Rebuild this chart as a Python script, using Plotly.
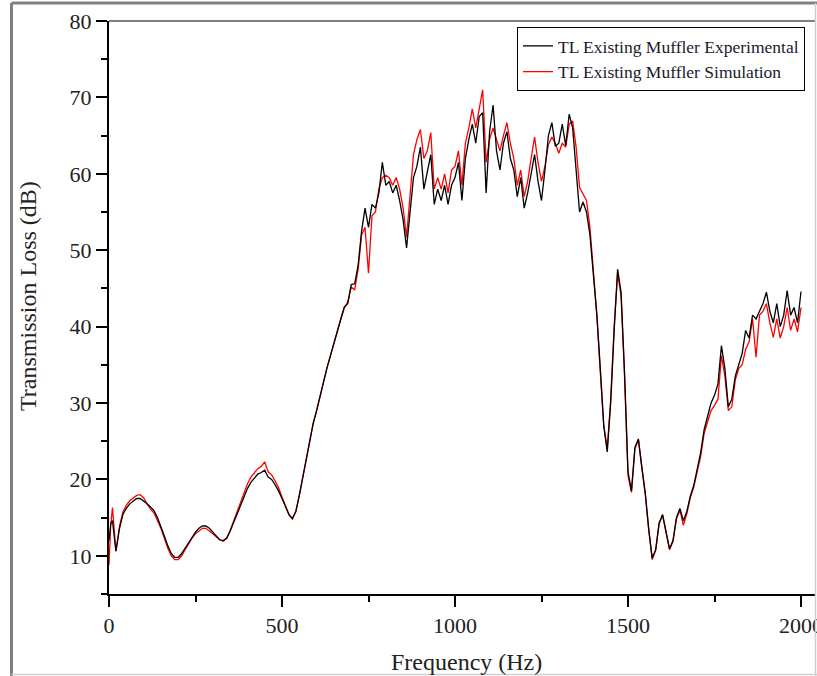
import plotly.graph_objects as go

# Frequency grid (Hz)
freq = [0, 5, 10, 15, 20, 25, 30] + list(range(40, 2001, 10))

# Transmission loss, experimental (dB)
tl_experimental = [
    12.0, 14.2, 14.6, 12.5, 10.6, 12.0, 13.5,
    15.4, 16.2, 16.8, 17.2, 17.5, 17.5, 17.2, 16.8, 16.4, 15.9,   # 40-130
    15.0, 13.9, 12.6, 11.3, 10.3, 9.8, 9.8, 10.3, 11.0, 11.8,     # 140-230
    12.5, 13.1, 13.6, 13.9, 13.9, 13.6, 13.1, 12.6, 12.1, 12.0,   # 240-330
    12.3, 13.2, 14.3, 15.5, 16.7, 17.8, 18.8, 19.6, 20.2, 20.7,   # 340-430
    20.9, 21.2, 20.3, 20.0, 19.3, 18.5, 17.5, 16.4, 15.4, 14.9,   # 440-530
    15.8, 17.9, 20.2, 22.6, 25.0, 27.3, 29.0, 31.0, 32.8, 34.6,   # 540-630
    36.2, 37.9, 39.3, 41.0, 42.6, 43.0, 45.5, 45.6, 48.0, 52.5,   # 640-730
    55.5, 53.0, 56.0, 55.5, 57.5, 61.5, 58.5, 59.0, 57.5, 58.5,   # 740-830
    56.5, 54.0, 50.3, 55.0, 59.5, 61.0, 63.5, 58.0, 60.5, 62.5,   # 840-930
    56.0, 58.0, 56.5, 58.5, 56.0, 58.5, 59.5, 61.5, 56.5, 62.0,   # 940-1030
    64.5, 66.5, 64.0, 67.5, 68.0, 57.5, 65.5, 69.0, 63.0, 60.5,   # 1040-1130
    64.0, 65.5, 62.0, 60.5, 57.0, 59.5, 55.5, 57.5, 60.0, 62.5,   # 1140-1230
    59.0, 56.5, 60.5, 65.0, 66.7, 63.6, 64.0, 66.5, 63.7, 67.8,   # 1240-1330
    66.0, 61.0, 55.0, 56.3, 55.0, 52.0, 47.0, 41.5, 34.5, 27.0,   # 1340-1430
    23.6, 30.0, 39.5, 47.5, 44.5, 34.0, 21.0, 18.5, 24.2, 25.3,   # 1440-1530
    21.6, 18.2, 13.5, 9.7, 10.8, 14.3, 15.4, 13.0, 10.9, 12.0,    # 1540-1630
    15.0, 16.2, 14.6, 15.8, 17.8, 19.2, 21.4, 23.5, 26.5, 28.3,   # 1640-1730
    30.0, 31.0, 32.5, 37.5, 34.5, 29.5, 30.5, 33.5, 35.0, 36.5,   # 1740-1830
    39.5, 38.5, 41.5, 41.0, 42.0, 43.0, 44.5, 42.0, 40.5, 43.0,   # 1840-1930
    40.0, 41.5, 44.7, 41.5, 42.5, 40.5, 44.6,                     # 1940-2000
]

# Transmission loss, simulation (dB)
tl_simulation = [
    8.8, 14.0, 16.3, 13.0, 10.6, 12.2, 13.8,
    15.7, 16.6, 17.2, 17.6, 17.9, 18.0, 17.6, 16.8, 16.1, 15.6,   # 40-130
    14.7, 13.6, 12.3, 11.0, 10.0, 9.5, 9.5, 10.0, 10.8, 11.6,     # 140-230
    12.3, 12.9, 13.3, 13.6, 13.6, 13.3, 12.9, 12.5, 12.1, 11.9,   # 240-330
    12.3, 13.3, 14.5, 15.8, 17.1, 18.3, 19.4, 20.3, 20.9, 21.4,   # 340-430
    21.7, 22.3, 21.0, 20.6, 19.8, 18.9, 17.7, 16.5, 15.4, 14.8,   # 440-530
    15.8, 17.9, 20.2, 22.6, 25.0, 27.3, 29.0, 31.0, 32.8, 34.6,   # 540-630
    36.2, 37.9, 39.3, 41.0, 42.4, 43.2, 45.2, 44.8, 47.5, 52.0,   # 640-730
    53.0, 47.0, 54.5, 55.0, 58.0, 59.5, 59.8, 59.5, 58.5, 59.5,   # 740-830
    58.0, 55.5, 51.7, 57.0, 62.5, 64.5, 65.8, 62.0, 63.0, 65.4,   # 840-930
    58.0, 59.5, 58.0, 60.0, 57.5, 60.5, 61.0, 63.0, 58.5, 64.0,   # 940-1030
    66.0, 68.5, 66.0, 68.5, 71.0, 61.5, 64.5, 66.0, 64.5, 63.0,   # 1040-1130
    65.0, 66.7, 64.0, 62.0, 58.5, 60.5, 57.0, 59.0, 62.0, 64.8,   # 1140-1230
    61.5, 59.0, 61.0, 63.8, 64.8, 64.0, 62.7, 64.0, 63.5, 66.5,   # 1240-1330
    66.9, 63.5, 58.2, 57.3, 56.5, 53.0, 47.5, 41.5, 34.0, 27.0,   # 1340-1430
    24.0, 30.5, 40.0, 47.0, 44.0, 33.5, 20.5, 18.3, 24.0, 25.2,   # 1440-1530
    21.5, 18.0, 13.3, 9.5, 10.7, 14.2, 15.3, 13.0, 10.8, 11.9,    # 1540-1630
    14.8, 16.0, 14.0, 15.5, 17.6, 19.0, 21.0, 23.0, 26.0, 27.5,   # 1640-1730
    29.0, 29.7, 30.5, 36.2, 33.5, 29.0, 29.5, 33.0, 34.5, 35.0,   # 1740-1830
    37.0, 38.0, 41.0, 36.0, 41.5, 42.0, 43.0, 40.5, 38.6, 41.0,   # 1840-1930
    38.5, 40.0, 42.5, 39.5, 41.0, 39.3, 42.5,                     # 1940-2000
]

x_ticks = [0, 500, 1000, 1500, 2000]
y_ticks = [10, 20, 30, 40, 50, 60, 70, 80]

SERIF = "Liberation Serif, Times New Roman, serif"
W, H = 817, 676
ML, MR, MT, MB = 109, 2, 21, 82
PW, PH = W - ML - MR, H - MT - MB


def px_x(p):
    return (p - ML) / PW


def px_y(p):
    return (H - MB - p) / PH


fig = go.Figure()
# simulation drawn first so the experimental line sits on top
fig.add_trace(go.Scatter(
    x=freq, y=tl_simulation, mode="lines", name="TL Existing Muffler Simulation",
    line=dict(color="#ff0000", width=1.3),
))
fig.add_trace(go.Scatter(
    x=freq, y=tl_experimental, mode="lines", name="TL Existing Muffler Experimental",
    line=dict(color="#000000", width=1.3),
))

axis_common = dict(
    showgrid=False, zeroline=False, showline=True, linecolor="black", linewidth=2,
    ticks="outside", tickcolor="black", tickwidth=2, ticklen=11,
    tickfont=dict(family=SERIF, size=22, color="#222"),
    ticklabeloverflow="allow", automargin=False,
)
fig.update_xaxes(
    range=[0, PW / 0.346], tickvals=x_ticks,
    minor=dict(ticks="outside", dtick=250, tick0=0, ticklen=6, tickwidth=2, tickcolor="black"),
    **axis_common,
)
fig.update_yaxes(
    range=[5, 80], tickvals=y_ticks,
    minor=dict(ticks="outside", dtick=5, tick0=5, ticklen=6, tickwidth=2, tickcolor="black"),
    **axis_common,
)

shapes = [
    # top frame of the plot box
    dict(type="line", xref="paper", yref="paper", x0=0, x1=1, y0=1, y1=1,
         line=dict(color="black", width=1)),
    # outer page frame
    dict(type="line", xref="paper", yref="paper", x0=px_x(11.5), x1=px_x(11.5),
         y0=px_y(3), y1=px_y(676), line=dict(color="#808080", width=3)),
    dict(type="line", xref="paper", yref="paper", x0=px_x(11.5), x1=px_x(817),
         y0=px_y(3), y1=px_y(3), line=dict(color="#808080", width=3)),
    dict(type="line", xref="paper", yref="paper", x0=px_x(11.5), x1=px_x(817),
         y0=px_y(674.5), y1=px_y(674.5), line=dict(color="#d0d0d0", width=1.5)),
    dict(type="line", xref="paper", yref="paper", x0=px_x(815.5), x1=px_x(815.5),
         y0=px_y(3), y1=px_y(676), line=dict(color="#d0d0d0", width=1.5)),
]

annotations = [
    dict(text="Frequency (Hz)", xref="paper", yref="paper", x=px_x(466), y=px_y(662),
         showarrow=False, xanchor="center", yanchor="middle",
         font=dict(family=SERIF, size=24, color="#222")),
    dict(text="Transmission Loss (dB)", xref="paper", yref="paper", x=px_x(28), y=px_y(296),
         showarrow=False, xanchor="center", yanchor="middle", textangle=-90,
         font=dict(family=SERIF, size=24, color="#222")),
]

fig.update_layout(
    width=W, height=H,
    margin=dict(l=ML, r=MR, t=MT, b=MB, pad=0, autoexpand=False),
    paper_bgcolor="white", plot_bgcolor="white",
    showlegend=True,
    legend=dict(
        x=px_x(805), y=px_y(27), xanchor="right", yanchor="top",
        traceorder="reversed", bgcolor="white", bordercolor="black", borderwidth=1,
        font=dict(family=SERIF, size=17.5, color="#1a1a2e"),
        tracegroupgap=0, itemwidth=30,
    ),
    shapes=shapes, annotations=annotations,
)

fig.write_html("out.html")
